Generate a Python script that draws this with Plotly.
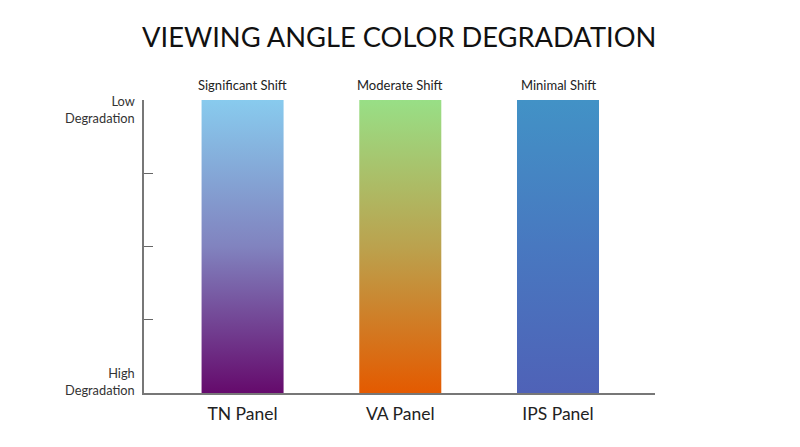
import plotly.graph_objects as go

# ---- data ----
categories = ["TN Panel", "VA Panel", "IPS Panel"]
quality = [1.0, 1.0, 1.0]          # full-height bars (Low -> High degradation scale)
shift_labels = ["Significant Shift", "Moderate Shift", "Minimal Shift"]
top_colors = ["#88CBEE", "#98DF86", "#4292C6"]
mid_colors = ["#8183BF", "#BBA24E", "#4878C0"]
bottom_colors = ["#650A6C", "#E45A00", "#4F62B7"]
ytick_vals = [0, 0.25, 0.5, 0.75, 1.0]
ytick_labels = ["High<br>Degradation", "", "", "", "Low<br>Degradation"]

FONT = "Lato"
bar_width = 0.52

fig = go.Figure()
for i, (cat, v) in enumerate(zip(categories, quality)):
    x0, x1 = i - bar_width / 2, i + bar_width / 2
    fig.add_trace(go.Scatter(
        x=[x0, x1, x1, x0, x0],
        y=[0, 0, v, v, 0],
        mode="lines",
        line=dict(width=0),
        fill="toself",
        fillgradient=dict(
            type="vertical",
            colorscale=[[0, bottom_colors[i]], [0.5, mid_colors[i]], [1, top_colors[i]]],
            start=0, stop=v,
        ),
        hoverinfo="skip",
        showlegend=False,
        name=cat,
    ))

annotations = []
for i, (lab, v) in enumerate(zip(shift_labels, quality)):
    annotations.append(dict(x=i, y=v, xref="x", yref="y", text=lab, showarrow=False,
                            yanchor="bottom", yshift=5,
                            font=dict(family=FONT, size=13, color="#222")))
for val, lab in zip(ytick_vals, ytick_labels):
    if not lab:
        continue
    annotations.append(dict(x=0, y=val, xref="paper", yref="y", text=lab, showarrow=False,
                            xanchor="right", xshift=-7, align="right",
                            yanchor="top" if val >= 0.5 else "bottom",
                            yshift=9 if val >= 0.5 else -7,
                            font=dict(family=FONT, size=12.8, color="#333")))

fig.update_layout(
    width=800, height=447,
    margin=dict(l=136, r=153, t=92, b=62),
    paper_bgcolor="white", plot_bgcolor="white",
    title=dict(text="VIEWING ANGLE COLOR DEGRADATION", x=0.489, xanchor="center",
               y=0.935, yanchor="middle",
               font=dict(family=FONT, size=27.3, color="#111")),
    xaxis=dict(range=[-0.625, 2.615], tickvals=list(range(len(categories))),
               ticktext=categories, showgrid=False, zeroline=False,
               showline=True, linecolor="#777", linewidth=1.5,
               ticks="", ticklabelstandoff=4,
               tickfont=dict(family=FONT, size=17.5, color="#222")),
    yaxis=dict(range=[0, 1], tickvals=ytick_vals, ticktext=[""] * len(ytick_vals),
               showgrid=False, zeroline=False, showline=True, linecolor="#777",
               linewidth=1.5, ticks="inside", ticklen=9, tickcolor="#666", tickwidth=1.2),
    annotations=annotations,
)

fig.write_html("out.html")
